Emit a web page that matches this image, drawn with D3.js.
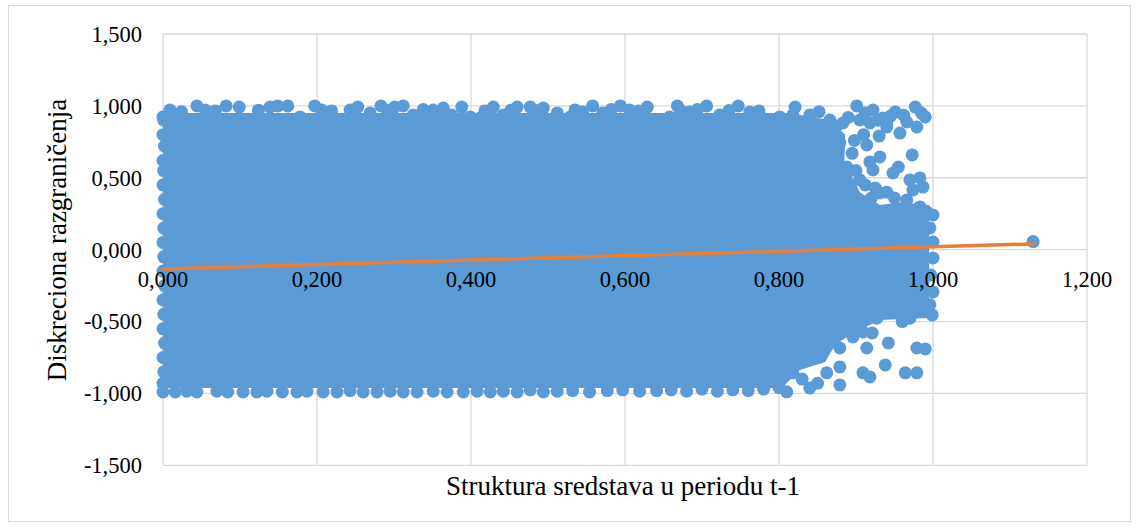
<!DOCTYPE html>
<html lang="en">
<head>
    <meta charset="UTF-8">
    <title>Diskreciona razgraničenja</title>
    <script src="https://d3js.org/d3.v7.min.js"></script>
</head>
<style>
    html,body {
        margin: 0;
        padding: 0;
        background: #fff;
    }
</style>
<body>
    <div id="chart"></div>
</body>
<script>
    // tick values
    const xTicks = [0, 0.2, 0.4, 0.6, 0.8, 1.0, 1.2];
    const yTicks = [-1.5, -1.0, -0.5, 0, 0.5, 1.0, 1.5];

    // saturated core of the cloud (too dense to read single points), outline as [x, y]
    const coreOutline = [
        [0, 0.95], [0.814, 0.95], [0.866, 0.9], [0.886, 0.8], [0.885, 0.62], [0.905, 0.4],
        [0.931, 0.311], [0.957, 0.33], [0.995, 0.311], [0.995, -0.475], [0.931, -0.489],
        [0.892, -0.593], [0.873, -0.662], [0.86, -0.781], [0.827, -0.837], [0.808, -0.94],
        [0.801, -0.962], [0, -0.962]
    ];

    // single points readable on the top edge
    const topEdge = [
        [0.009, 0.971], [0.000, 0.923], [0.044, 1.0], [0.055, 0.971], [0.082, 1.0], [0.099, 0.992],
        [0.113, 0.881], [0.139, 0.992], [0.149, 1.0], [0.162, 1.0], [0.178, 0.923], [0.197, 1.0],
        [0.206, 0.971], [0.191, 0.833], [0.232, 0.888], [0.243, 0.971], [0.253, 0.992], [0.269, 0.951],
        [0.283, 1.0], [0.301, 0.992], [0.312, 1.0], [0.325, 0.937], [0.351, 0.971], [0.364, 0.985],
        [0.375, 0.937], [0.388, 0.992], [0.399, 0.923], [0.412, 0.916], [0.429, 0.992], [0.442, 0.937],
        [0.460, 0.992], [0.477, 0.992], [0.494, 0.985], [0.512, 0.951], [0.529, 0.923], [0.545, 0.958],
        [0.558, 1.0], [0.571, 0.951], [0.594, 1.0], [0.606, 0.971], [0.629, 0.992], [0.645, 0.902],
        [0.658, 0.923], [0.668, 1.0], [0.684, 0.958], [0.706, 1.0], [0.723, 0.937], [0.747, 0.999],
        [0.762, 0.958], [0.782, 0.902], [0.801, 0.923], [0.821, 0.992], [0.818, 0.937], [0.840, 0.937],
        [0.866, 0.902], [0.883, 0.881], [0.901, 1.0], [0.922, 0.971], [0.935, 0.916], [0.951, 0.958],
        [0.977, 0.992], [0.990, 0.923], [0.966, 0.888], [0.957, 0.811], [0.024, 0.96], [0.068, 0.965],
        [0.124, 0.97], [0.219, 0.965], [0.292, 0.97], [0.338, 0.975], [0.418, 0.965], [0.452, 0.97],
        [0.487, 0.968], [0.535, 0.972], [0.582, 0.975], [0.618, 0.965], [0.672, 0.97], [0.694, 0.975],
        [0.735, 0.968], [0.774, 0.965], [0.852, 0.96], [0.912, 0.95], [0.945, 0.93],
        [0.89, 0.92], [0.928, 0.9], [0.962, 0.935], [0.985, 0.95], [0.94, 0.875], [0.875, 0.86]
    ];

    // sparse points right of 0.8, upper half
    const rightUpper = [
        [0.914, 0.728], [0.931, 0.645], [0.918, 0.61], [0.922, 0.554], [0.973, 0.659], [0.955, 0.575],
        [0.970, 0.485], [0.983, 0.499], [0.987, 0.435], [0.974, 0.415], [0.925, 0.429], [0.931, 0.394],
        [0.905, 0.485], [0.879, 0.742], [0.888, 0.575], [0.870, 0.645], [0.905, 0.902], [0.918, 0.881],
        [0.940, 0.853], [0.979, 0.853], [0.948, 0.533], [0.966, 0.346], [0.983, 0.297], [0.992, 0.262],
        [0.895, 0.67], [0.9, 0.55], [0.912, 0.45], [0.94, 0.4], [0.95, 0.36], [0.92, 0.36],
        [0.898, 0.76], [0.91, 0.8], [0.93, 0.79]
    ];

    // right edge near 1,000
    const rightEdge = [
        [1.0, 0.241], [0.996, 0.151], [1.0, 0.053], [1.0, -0.058], [0.997, -0.176], [1.0, -0.294],
        [0.996, -0.384], [0.999, -0.454]
    ];

    // sparse points right of 0.8, lower half
    const rightLower = [
        [0.927, -0.477], [0.970, -0.477], [0.942, -0.649], [0.979, -0.684], [0.990, -0.691],
        [0.938, -0.802], [0.964, -0.857], [0.979, -0.857], [0.879, -0.558], [0.909, -0.572],
        [0.921, -0.579], [0.896, -0.607], [0.914, -0.684], [0.879, -0.684], [0.879, -0.816],
        [0.879, -0.941], [0.909, -0.857], [0.918, -0.885], [0.840, -0.962], [0.810, -0.989],
        [0.818, -0.857], [0.853, -0.746], [0.862, -0.857], [0.827, -0.677], [0.840, -0.579],
        [0.801, -0.628], [0.83, -0.9], [0.85, -0.93], [0.9, -0.52], [0.96, -0.5]
    ];

    // left edge at 0,000
    const leftEdge = [
        [0.001, 0.9], [0.0, 0.8], [0.002, 0.72], [0.0, 0.62], [0.001, 0.55], [0.0, 0.45], [0.002, 0.35],
        [0.0, 0.25], [0.001, 0.15], [0.0, 0.05], [0.001, -0.05], [0.0, -0.15], [0.002, -0.25],
        [0.0, -0.35], [0.001, -0.45], [0.0, -0.55], [0.002, -0.65], [0.0, -0.75], [0.001, -0.85],
        [0.0, -0.93]
    ];

    // bottom edge
    const bottomEdge = [
        [0.000, -0.99], [0.016, -0.99], [0.031, -0.985], [0.044, -0.99], [0.070, -0.985], [0.084, -0.99],
        [0.104, -0.99], [0.122, -0.99], [0.135, -0.985], [0.155, -0.99], [0.174, -0.99], [0.187, -0.985],
        [0.208, -0.99], [0.226, -0.99], [0.243, -0.98], [0.260, -0.99], [0.278, -0.99], [0.295, -0.985],
        [0.312, -0.99], [0.330, -0.99], [0.351, -0.985], [0.369, -0.99], [0.390, -0.99], [0.408, -0.985],
        [0.425, -0.99], [0.442, -0.985], [0.460, -0.99], [0.477, -0.975], [0.494, -0.99], [0.512, -0.985],
        [0.532, -0.98], [0.554, -0.99], [0.577, -0.98], [0.597, -0.975], [0.619, -0.985], [0.641, -0.98],
        [0.660, -0.975], [0.680, -0.985], [0.700, -0.97], [0.720, -0.985], [0.740, -0.975], [0.760, -0.98],
        [0.780, -0.97], [0.800, -0.96]
    ];

    // the lone point past 1,000
    const outlier = [[1.13, 0.056]];

    // linear trend line end points
    const trendX = [0, 1.13];
    const trendY = [-0.134, 0.04];

    const width = 1139;
    const height = 528;
    const blue = '#5b9bd5';
    const font = '"Liberation Serif", "Times New Roman", serif';

    const svg = d3.select('#chart').append('svg')
        .attr('width', width)
        .attr('height', height);

    // chart frame
    svg.append('rect')
        .attr('x', 8.5).attr('y', 5.5)
        .attr('width', 1122).attr('height', 516)
        .attr('fill', '#fff')
        .attr('stroke', '#d9d9d9');

    const x = d3.scaleLinear().domain([0, 1.2]).range([163, 1087]);
    const y = d3.scaleLinear().domain([-1.5, 1.5]).range([465.3, 34]);

    // grid
    svg.append('g')
        .selectAll('line')
        .data(xTicks)
        .enter().append('line')
        .attr('x1', d => x(d)).attr('x2', d => x(d))
        .attr('y1', y(1.5)).attr('y2', y(-1.5))
        .attr('stroke', '#d9d9d9').attr('stroke-width', 1.3);
    svg.append('g')
        .selectAll('line')
        .data(yTicks)
        .enter().append('line')
        .attr('x1', x(0)).attr('x2', x(1.2))
        .attr('y1', d => y(d)).attr('y2', d => y(d))
        .attr('stroke', '#d9d9d9').attr('stroke-width', 1.3);

    // dense core
    svg.append('path')
        .datum(coreOutline)
        .attr('d', d3.line().x(d => x(d[0])).y(d => y(d[1])).curve(d3.curveLinearClosed))
        .attr('fill', blue);

    const points = [].concat(topEdge, rightUpper, rightEdge, rightLower, leftEdge, bottomEdge, outlier);
    svg.append('g')
        .selectAll('circle')
        .data(points)
        .enter().append('circle')
        .attr('cx', d => x(d[0]))
        .attr('cy', d => y(d[1]))
        .attr('r', 6.5)
        .attr('fill', blue);

    // trend line
    svg.append('line')
        .attr('x1', x(trendX[0])).attr('y1', y(trendY[0]))
        .attr('x2', x(trendX[1])).attr('y2', y(trendY[1]))
        .attr('stroke', '#ed7d31')
        .attr('stroke-width', 3.5)
        .attr('stroke-linecap', 'round');

    // tick labels
    const fmt = v => d3.format('.3f')(v).replace('.', ',').replace('−', '-');
    svg.append('g')
        .selectAll('text')
        .data(yTicks)
        .enter().append('text')
        .attr('x', 142)
        .attr('y', d => y(d))
        .attr('dy', '0.35em')
        .attr('text-anchor', 'end')
        .style('font-family', font)
        .style('font-size', '22.5px')
        .text(fmt);
    svg.append('g')
        .selectAll('text')
        .data(xTicks)
        .enter().append('text')
        .attr('x', d => x(d))
        .attr('y', 287)
        .attr('text-anchor', 'middle')
        .style('font-family', font)
        .style('font-size', '22.5px')
        .text(fmt);

    // axis titles
    svg.append('text')
        .attr('x', 623).attr('y', 495)
        .attr('text-anchor', 'middle')
        .style('font-family', font)
        .style('font-size', '27px')
        .text('Struktura sredstava u periodu t-1');
    svg.append('text')
        .attr('transform', 'translate(66,240) rotate(-90)')
        .attr('text-anchor', 'middle')
        .style('font-family', font)
        .style('font-size', '27px')
        .text('Diskreciona razgraničenja');
</script>
</html>
